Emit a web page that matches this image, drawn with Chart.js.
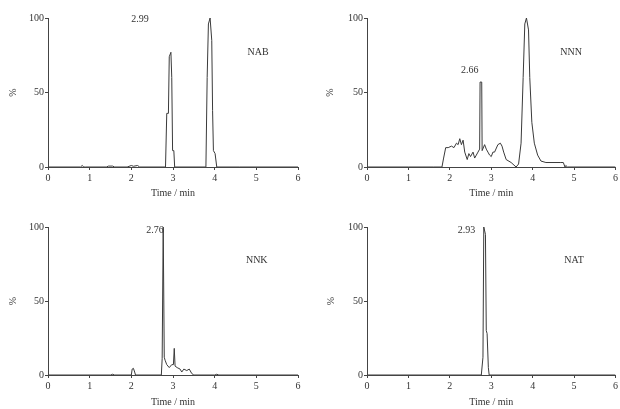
<!DOCTYPE html>
<html>
<head>
<meta charset="utf-8">
<script src="https://cdn.jsdelivr.net/npm/chart.js@4.4.0/dist/chart.umd.min.js"></script>
<style>
  html, body { margin: 0; padding: 0; background: #fff; }
  #wrap { position: relative; width: 620px; height: 409px; overflow: hidden; }
  canvas { position: absolute; }
</style>
</head>
<body>
<div id="wrap">
  <canvas id="c1" width="310" height="205" style="left:0;top:0"></canvas>
  <canvas id="c2" width="310" height="205" style="left:310px;top:0"></canvas>
  <canvas id="c3" width="310" height="204" style="left:0;top:205px"></canvas>
  <canvas id="c4" width="310" height="204" style="left:310px;top:205px"></canvas>
</div>
<script>
// ---- Data (time in min, relative abundance in %) ----
const xTicks = [0, 1, 2, 3, 4, 5, 6];
const yTicks = [0, 50, 100];

const nabTime = [0, 0.78, 0.82, 0.86, 0.9, 1.4, 1.45, 1.55, 1.6, 1.9, 2.0, 2.05, 2.15, 2.2, 2.82, 2.85, 2.89, 2.91, 2.95, 2.97, 2.99, 3.02, 3.04, 3.79, 3.82, 3.85, 3.89, 3.93, 3.95, 3.97, 4.01, 4.05, 4.6, 6];
const nabValue = [0, 0, 1, 0, 0, 0, 0.6, 0.6, 0, 0, 1, 0.5, 1, 0, 0, 36, 36, 74, 77, 60, 11, 11, 0, 0, 60, 96, 100, 85, 38, 11, 9, 0, 0, 0];

const nnnTime = [0, 1.0, 1.6, 1.81, 1.85, 1.9, 1.96, 2.04, 2.1, 2.16, 2.2, 2.24, 2.28, 2.32, 2.36, 2.42, 2.46, 2.5, 2.56, 2.6, 2.64, 2.68, 2.72, 2.73, 2.77, 2.78, 2.84, 2.88, 2.92, 2.96, 3.0, 3.04, 3.08, 3.16, 3.22, 3.26, 3.3, 3.36, 3.48, 3.6, 3.66, 3.72, 3.77, 3.81, 3.85, 3.9, 3.93, 3.98, 4.04, 4.12, 4.2, 4.32, 4.68, 4.74, 4.78, 4.8, 4.84, 6];
const nnnValue = [0, 0, 0, 0, 6, 13, 13, 14, 13, 16, 15, 19, 15, 18, 10, 5, 9, 7, 10, 6, 8, 10, 12, 57, 57, 11, 15, 12, 10, 8, 7, 10, 10, 15, 16, 14, 10, 5, 3, 0, 2, 16, 60, 96, 100, 92, 60, 30, 16, 8, 4, 3, 3, 3, 0, 1, 0, 0];

const nnkTime = [0, 1.5, 1.55, 1.6, 2.0, 2.02, 2.05, 2.08, 2.1, 2.72, 2.74, 2.765, 2.79, 2.81, 2.85, 2.91, 2.97, 3.01, 3.03, 3.05, 3.07, 3.1, 3.17, 3.21, 3.26, 3.33, 3.39, 3.45, 3.5, 4.0, 4.05, 4.1, 6];
const nnkValue = [0, 0, 0.5, 0, 0, 4, 4.5, 2, 0, 0, 11, 100, 12, 10, 7, 5, 7, 7, 18, 6, 6, 5, 4, 2, 4, 3, 4, 1, 0, 0, 0.5, 0, 0];

const natTime = [0, 2.76, 2.8, 2.82, 2.86, 2.88, 2.9, 2.93, 2.95, 6];
const natValue = [0, 0, 12, 100, 95, 30, 28, 5, 0, 0];

const compounds = ["NAB", "NNN", "NNK", "NAT"];
const retentionLabels = ["2.99", "2.66", "2.76", "2.93"];

// ---- Rendering ----
const FONT = "'Liberation Serif', 'DejaVu Serif', serif";
const INK = "#333";

function pts(t, v) { return t.map((x, i) => ({ x: x, y: v[i] })); }

const textPlugin = {
  id: 'peakText',
  afterDatasetsDraw(chart, args, opts) {
    const ctx = chart.ctx, xs = chart.scales.x, ys = chart.scales.y;
    ctx.save();
    ctx.fillStyle = INK;
    ctx.font = "10px " + FONT;
    ctx.textAlign = 'center';
    ctx.textBaseline = 'middle';
    (opts.items || []).forEach(it => {
      ctx.fillText(it.text, xs.getPixelForValue(it.x), ys.getPixelForValue(it.y));
    });
    ctx.restore();
  }
};

function makeChart(id, data, cfg) {
  return new Chart(document.getElementById(id), {
    type: 'line',
    data: {
      datasets: [{
        data: data,
        borderColor: '#3a3a3a',
        borderWidth: 1,
        pointRadius: 0,
        tension: 0,
        fill: false
      }]
    },
    plugins: [textPlugin],
    options: {
      responsive: false,
      animation: false,
      devicePixelRatio: 1,
      parsing: true,
      layout: { padding: { left: 0, top: cfg.top, right: cfg.right, bottom: 0 } },
      plugins: {
        legend: { display: false },
        tooltip: { enabled: false },
        peakText: { items: cfg.items }
      },
      scales: {
        x: {
          type: 'linear',
          min: 0, max: 6,
          afterBuildTicks: s => { s.ticks = xTicks.map(v => ({ value: v })); },
          afterFit: s => { s.height = cfg.xh; },
          border: { display: true, color: '#444', width: 1 },
          grid: { drawOnChartArea: false, drawTicks: true, tickLength: 3, color: '#444' },
          ticks: { color: INK, font: { family: FONT, size: 10 }, padding: 2, maxRotation: 0 },
          title: { display: true, text: 'Time / min', color: INK, font: { family: FONT, size: 10 }, padding: { top: 0, bottom: cfg.titleB } }
        },
        y: {
          type: 'linear',
          min: 0, max: 100,
          afterBuildTicks: s => { s.ticks = yTicks.map(v => ({ value: v })); },
          afterFit: s => { s.width = cfg.yw; },
          border: { display: true, color: '#444', width: 1 },
          grid: { drawOnChartArea: false, drawTicks: true, tickLength: 3, color: '#444' },
          ticks: { color: INK, font: { family: FONT, size: 10 }, padding: 1 },
          title: { display: true, text: '%', color: INK, font: { family: FONT, size: 10 }, padding: { top: cfg.titleL, bottom: 0 } }
        }
      }
    }
  });
}

makeChart('c1', pts(nabTime, nabValue), {
  top: 18, right: 12, xh: 38, yw: 48, titleB: 6, titleL: 7,
  items: [{ text: retentionLabels[0], x: 2.21, y: 99 }, { text: compounds[0], x: 5.04, y: 77 }]
});
makeChart('c2', pts(nnnTime, nnnValue), {
  top: 18, right: 4, xh: 38, yw: 57, titleB: 6, titleL: 14,
  items: [{ text: retentionLabels[1], x: 2.48, y: 65 }, { text: compounds[1], x: 4.93, y: 77 }]
});
makeChart('c3', pts(nnkTime, nnkValue), {
  top: 22, right: 12, xh: 34, yw: 48, titleB: 1, titleL: 7,
  items: [{ text: retentionLabels[2], x: 2.57, y: 97.5 }, { text: compounds[2], x: 5.01, y: 77.5 }]
});
makeChart('c4', pts(natTime, natValue), {
  top: 22, right: 4, xh: 34, yw: 57, titleB: 1, titleL: 15,
  items: [{ text: retentionLabels[3], x: 2.4, y: 97.5 }, { text: compounds[3], x: 5.0, y: 77.5 }]
});
</script>
</body>
</html>
